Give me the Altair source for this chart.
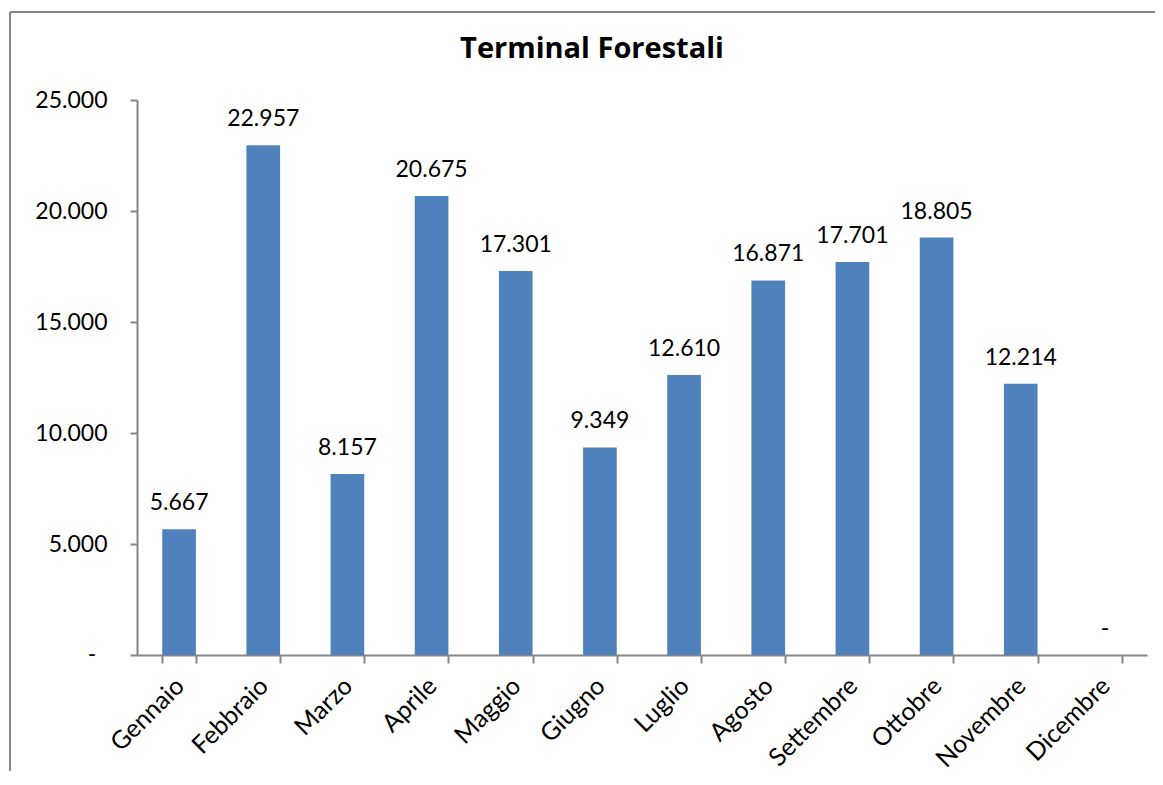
import altair as alt
import pandas as pd

months = ["Gennaio", "Febbraio", "Marzo", "Aprile", "Maggio", "Giugno",
          "Luglio", "Agosto", "Settembre", "Ottobre", "Novembre", "Dicembre"]
values = [5667, 22957, 8157, 20675, 17301, 9349, 12610, 16871, 17701, 18805, 12214, 0]
y_ticks = [0, 5000, 10000, 15000, 20000, 25000]
zero_label = ["-"]

df = pd.DataFrame({"Mese": months, "Valore": values})
zero_df = pd.DataFrame({"v": [0], "lab": zero_label})

FONT = "Lato"
GRAY = "#868686"
W, H = 1010, 555

x = alt.X("Mese:N", sort=months, title=None,
          scale=alt.Scale(paddingInner=0.6, paddingOuter=0.3),
          axis=alt.Axis(labelAngle=-45, labelFont=FONT, labelFontSize=25,
                        labelColor="black", labelPadding=10, labelOffset=-8,
                        tickBand="extent",
                        tickSize=8, tickColor=GRAY, tickWidth=2,
                        domainColor=GRAY, domainWidth=2))
y = alt.Y("Valore:Q", title=None,
          scale=alt.Scale(domain=[0, 25000], nice=False),
          axis=alt.Axis(values=y_ticks, grid=False, labelFont=FONT, labelFontSize=23,
                        labelColor="black", labelPadding=23, tickSize=7,
                        tickColor=GRAY, tickWidth=2, domainColor=GRAY, domainWidth=2,
                        labelExpr="datum.value == 0 ? '' : replace(format(datum.value, ','), ',', '.')"))

bars = alt.Chart(df).mark_bar(color="#4F81BD").encode(x=x, y=y)

labels = alt.Chart(df).transform_calculate(
    lab="datum.Valore == 0 ? '-' : replace(format(datum.Valore, ','), ',', '.')"
).mark_text(font=FONT, fontSize=23, color="black", baseline="alphabetic", dy=-19).encode(
    x=alt.X("Mese:N", sort=months), y="Valore:Q", text="lab:N")

zero_tick_label = alt.Chart(zero_df).mark_text(
    font=FONT, fontSize=23, color="black", baseline="middle", align="center"
).encode(x=alt.value(-45), y=alt.Y("v:Q"), text="lab:N")

frame_data = alt.Data(values=[{"k": 1}])
left_line = alt.Chart(frame_data).mark_rule(color=GRAY, strokeWidth=2).encode(
    x=alt.value(-127), y=alt.value(-88), y2=alt.value(H + 200))
top_line = alt.Chart(frame_data).mark_rule(color=GRAY, strokeWidth=2).encode(
    x=alt.value(-127), x2=alt.value(W + 100), y=alt.value(-88))

chart = alt.layer(bars, labels, zero_tick_label, left_line, top_line).properties(
    width=W, height=H,
    title=alt.TitleParams("Terminal Forestali", font="Open Sans", fontSize=29, fontWeight="bold",
                          color="black", anchor="middle", baseline="alphabetic",
                          offset=-76, dx=-50),
    autosize=alt.AutoSizeParams(type="none"),
    padding={"left": 129, "top": 92, "right": 8, "bottom": 116},
).configure(background="white").configure_view(strokeWidth=0, stroke="transparent")

chart.save("out.html", embed_options={"renderer": "svg", "actions": False})
